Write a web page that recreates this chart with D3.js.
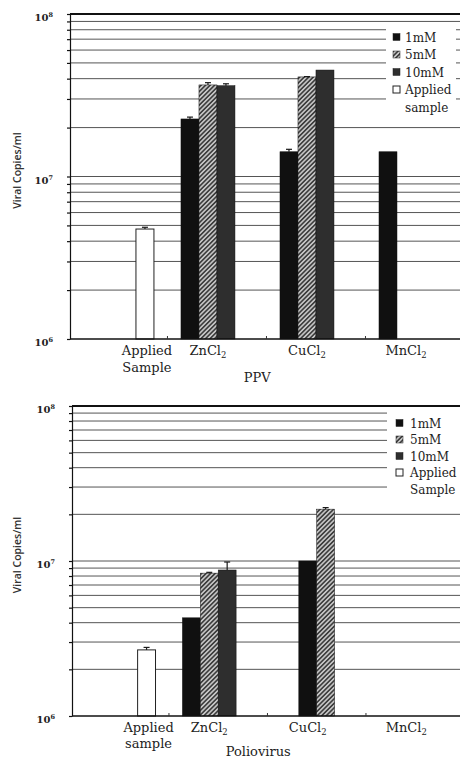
<!DOCTYPE html>
<html>
<head>
<meta charset="utf-8">
<script src="https://cdn.jsdelivr.net/npm/d3@7"></script>
<style>
  body { margin: 0; background: #fff; }
  svg { display: block; }
  .serif { font-family: "DejaVu Serif", serif; fill: #222; }
  .y-title { font-family: "Open Sans", sans-serif; font-weight: 600; font-size: 10.5px; fill: #333; }
</style>
</head>
<body>
<div id="chart"></div>
<script>
// ---- data ----
const categories = ['Applied', 'ZnCl2', 'CuCl2', 'MnCl2'];
const seriesKeys = ['1mM', '5mM', '10mM', 'Applied'];
const majorTicks = [1e6, 1e7, 1e8];

// PPV panel
const ppv1mM = [null, 2.26e7, 1.42e7, 1.42e7];
const ppv5mM = [null, 3.66e7, 4.1e7, null];
const ppv10mM = [null, 3.62e7, 4.52e7, null];
const ppvApplied = [4.75e6, null, null, null];
const ppv1mMErr = [null, 0.06e7, 0.05e7, 0];
const ppv5mMErr = [null, 0.12e7, 0.02e7, null];
const ppv10mMErr = [null, 0.1e7, 0, null];
const ppvAppliedErr = [0.12e6, null, null, null];
const ppvCatLabels = [['Applied', 'Sample'], ['ZnCl2'], ['CuCl2'], ['MnCl2']];
const ppvLegend = [['1mM'], ['5mM'], ['10mM'], ['Applied', 'sample']];

// Poliovirus panel
const polio1mM = [null, 4.3e6, 1.0e7, null];
const polio5mM = [null, 8.35e6, 2.16e7, null];
const polio10mM = [null, 8.75e6, null, null];
const polioApplied = [2.67e6, null, null, null];
const polio1mMErr = [null, 0, 0, null];
const polio5mMErr = [null, 0.1e6, 0.05e7, null];
const polio10mMErr = [null, 1.1e6, null, null];
const polioAppliedErr = [0.1e6, null, null, null];
const polioCatLabels = [['Applied', 'sample'], ['ZnCl2'], ['CuCl2'], ['MnCl2']];
const polioLegend = [['1mM'], ['5mM'], ['10mM'], ['Applied', 'Sample']];

const fills = {
  '1mM': '#101010', '5mM': 'url(#hatch)', '10mM': '#2e2e2e', Applied: '#fff',
};

const svg = d3.select('#chart').append('svg')
  .attr('width', 460)
  .attr('height', 762);

const pat = svg.append('defs').append('pattern')
  .attr('id', 'hatch')
  .attr('patternUnits', 'userSpaceOnUse')
  .attr('width', 3.2)
  .attr('height', 3.2)
  .attr('patternTransform', 'rotate(45)');
pat.append('rect').attr('width', 3.2).attr('height', 3.2).attr('fill', '#c4c4c4');
pat.append('line')
  .attr('x1', 0.8).attr('y1', 0).attr('x2', 0.8).attr('y2', 3.2)
  .attr('stroke', '#2a2a2a').attr('stroke-width', 1.4);

// writes "ZnCl2" with a subscript digit
function chemText(sel, str) {
  const m = str.match(/^(.*?)(\d+)$/);
  if (!m) { sel.text(str); return; }
  sel.append('tspan').text(m[1]);
  sel.append('tspan').attr('dy', 3).attr('font-size', '0.65em').text(m[2]);
}

function drawPanel(cfg, series, errors, catLabels, legendLabels) {
  const g = svg.append('g');

  const y = d3.scaleLog().domain([1e6, 1e8]).range([cfg.bottom, cfg.top]);

  const xOuter = d3.scaleBand()
    .domain(categories)
    .range([cfg.left, cfg.right])
    .paddingInner(0.273)
    .paddingOuter(0.106)
    .align(0.57);

  const xInner = d3.scaleBand()
    .domain(seriesKeys)
    .range([0, xOuter.bandwidth()]);

  // grid lines
  const gridTicks = y.ticks().filter((d) => d > 1e6 && d < 1e8);
  g.append('g')
    .selectAll('line')
    .data(gridTicks)
    .join('line')
    .attr('x1', cfg.left)
    .attr('x2', cfg.right)
    .attr('y1', (d) => y(d))
    .attr('y2', (d) => y(d))
    .attr('stroke', '#555')
    .attr('stroke-width', 1);

  // legend box hides the grid behind it
  const lg = cfg.legend;
  g.append('rect')
    .attr('x', lg.x0)
    .attr('y', lg.y0)
    .attr('width', lg.x1 - lg.x0)
    .attr('height', lg.y1 - lg.y0)
    .attr('fill', '#fff');

  // bars
  const bars = [];
  categories.forEach((cat, ci) => {
    const present = seriesKeys.filter((k, si) => series[si][ci] != null);
    const shift = (cat !== 'Applied' && cfg.barAlign === 'end') ? 3 - present.length : 0;
    present.forEach((k, i) => {
      const si = seriesKeys.indexOf(k);
      const slot = cat === 'Applied' ? k : seriesKeys[i + shift];
      bars.push({
        cat, key: k, value: series[si][ci], err: errors[si][ci] || 0,
        x: xOuter(cat) + xInner(slot),
      });
    });
  });

  g.append('g')
    .selectAll('rect')
    .data(bars)
    .join('rect')
    .attr('x', (d) => d.x)
    .attr('y', (d) => y(d.value))
    .attr('width', xInner.bandwidth())
    .attr('height', (d) => cfg.bottom - y(d.value))
    .attr('fill', (d) => fills[d.key])
    .attr('stroke', (d) => (d.key === 'Applied' ? '#222' : '#111'))
    .attr('stroke-width', (d) => (d.key === 'Applied' ? 1 : 0.5));

  const errBars = bars.filter((d) => d.err > 0);
  const eg = g.append('g').attr('stroke', '#1a1a1a').attr('stroke-width', 1.2);
  eg.selectAll('.stem')
    .data(errBars)
    .join('line')
    .attr('x1', (d) => d.x + xInner.bandwidth() / 2)
    .attr('x2', (d) => d.x + xInner.bandwidth() / 2)
    .attr('y1', (d) => y(d.value))
    .attr('y2', (d) => y(d.value + d.err));
  eg.selectAll('.cap')
    .data(errBars)
    .join('line')
    .attr('x1', (d) => d.x + xInner.bandwidth() / 2 - 3)
    .attr('x2', (d) => d.x + xInner.bandwidth() / 2 + 3)
    .attr('y1', (d) => y(d.value + d.err))
    .attr('y2', (d) => y(d.value + d.err));

  // axes
  g.append('g')
    .attr('transform', `translate(${cfg.left},0)`)
    .call(d3.axisLeft(y).tickValues(y.ticks()).tickSize(3).tickSizeOuter(0).tickFormat(''))
    .call((a) => a.selectAll('path, line').attr('stroke', '#111').attr('stroke-width', 1.2));

  g.append('line')
    .attr('x1', cfg.left).attr('x2', cfg.right)
    .attr('y1', y(1e8)).attr('y2', y(1e8))
    .attr('stroke', '#111').attr('stroke-width', 1.8);

  g.append('line')
    .attr('x1', cfg.left).attr('x2', cfg.right)
    .attr('y1', cfg.bottom).attr('y2', cfg.bottom)
    .attr('stroke', '#111').attr('stroke-width', 1.5);

  const gap = xOuter.step() * xOuter.paddingInner();
  g.append('g')
    .selectAll('line')
    .data(categories.slice(1))
    .join('line')
    .attr('x1', (d) => xOuter(d) - gap / 2)
    .attr('x2', (d) => xOuter(d) - gap / 2)
    .attr('y1', cfg.bottom)
    .attr('y2', cfg.bottom - 3)
    .attr('stroke', '#333');

  // y tick labels 10^n
  const tl = g.append('g')
    .selectAll('text')
    .data(majorTicks)
    .join('text')
    .attr('class', 'serif')
    .attr('x', cfg.left - 17)
    .attr('y', (d) => y(d) + 7)
    .attr('text-anchor', 'end')
    .attr('font-size', 10)
    .attr('font-weight', 'bold')
    .attr('fill', '#333');
  tl.append('tspan').text('10');
  tl.append('tspan')
    .attr('dy', -4)
    .attr('font-size', 6.5)
    .text((d) => Math.round(Math.log10(d)));

  g.append('text')
    .attr('class', 'y-title')
    .attr('transform', `translate(21, ${(cfg.top + cfg.bottom) / 2 - 6}) rotate(-90)`)
    .attr('text-anchor', 'middle')
    .text('Viral Copies/ml');

  // category labels
  categories.forEach((cat, ci) => {
    const cx = cat === 'Applied'
      ? xOuter(cat) + xInner('Applied') + xInner.bandwidth() / 2 + 2
      : xOuter(cat) + xInner.bandwidth() * 1.5;
    catLabels[ci].forEach((line, li) => {
      const t = g.append('text')
        .attr('class', 'serif')
        .attr('x', cx)
        .attr('y', cfg.bottom + 16 + li * cfg.catLine)
        .attr('text-anchor', 'middle')
        .attr('font-size', 13);
      chemText(t, line);
    });
  });

  g.append('text')
    .attr('class', 'serif')
    .attr('x', cfg.left + (cfg.right - cfg.left) * 0.48)
    .attr('y', cfg.bottom + cfg.titleOffset)
    .attr('text-anchor', 'middle')
    .attr('font-size', 13)
    .text(cfg.title);

  // legend
  let row = 0;
  legendLabels.forEach((lines, i) => {
    const cy = lg.rowY0 + row * lg.rowStep;
    g.append('rect')
      .attr('x', lg.sqX)
      .attr('y', cy - 3.5)
      .attr('width', 7)
      .attr('height', 7)
      .attr('fill', fills[seriesKeys[i]])
      .attr('stroke', '#222')
      .attr('stroke-width', seriesKeys[i] === 'Applied' ? 1 : 0.5);
    lines.forEach((line, li) => {
      g.append('text')
        .attr('class', 'serif')
        .attr('x', lg.textX)
        .attr('y', cy + 4.5 + li * lg.rowStep)
        .attr('font-size', 12)
        .text(line);
    });
    row += lines.length;
  });
}

drawPanel(
  {
    top: 14, bottom: 339, left: 70, right: 460, barAlign: 'start',
    catLine: 17, titleOffset: 43, title: 'PPV',
    legend: {
      x0: 386, x1: 456, y0: 25, y1: 116, sqX: 393, textX: 405, rowY0: 37, rowStep: 17.5,
    },
  },
  [ppv1mM, ppv5mM, ppv10mM, ppvApplied],
  [ppv1mMErr, ppv5mMErr, ppv10mMErr, ppvAppliedErr],
  ppvCatLabels,
  ppvLegend,
);

drawPanel(
  {
    top: 406, bottom: 716, left: 72, right: 460, barAlign: 'end',
    catLine: 15.5, titleOffset: 40, title: 'Poliovirus',
    legend: {
      x0: 387, x1: 460, y0: 408, y1: 500, sqX: 396, textX: 410, rowY0: 423, rowStep: 16.5,
    },
  },
  [polio1mM, polio5mM, polio10mM, polioApplied],
  [polio1mMErr, polio5mMErr, polio10mMErr, polioAppliedErr],
  polioCatLabels,
  polioLegend,
);
</script>
</body>
</html>
